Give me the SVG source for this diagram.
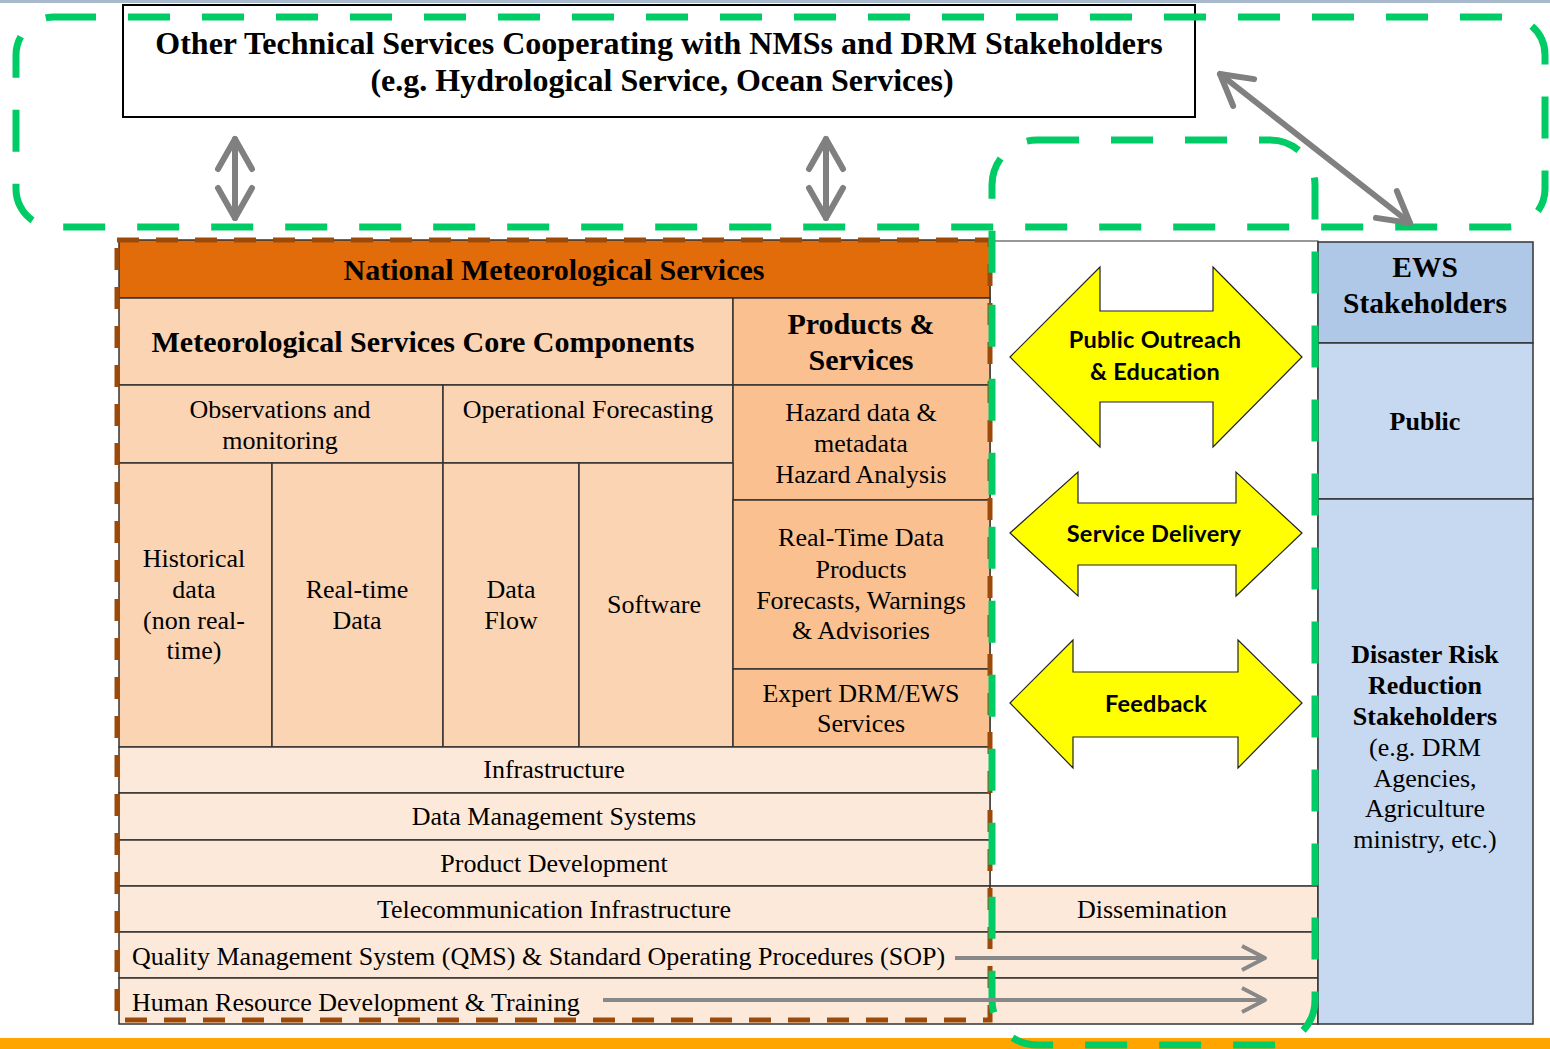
<svg xmlns="http://www.w3.org/2000/svg" width="1550" height="1049" viewBox="0 0 1550 1049">
<style>
.cell{stroke:#333;stroke-width:1.5}
.hdr{fill:#E36C0A}
.core{fill:#FBD4B4}
.prod{fill:#FAC090}
.lite{fill:#FDE9D9}
.ewsh{fill:#B0C8E8}
.ewsb{fill:#C6D9F1}
.tb{font-family:"Liberation Serif","Times New Roman",serif;font-weight:bold;fill:#000;text-anchor:middle}
.tr{font-family:"Liberation Serif","Times New Roman",serif;fill:#000;text-anchor:middle;font-size:26px}
.ts{text-anchor:start}
.ta{font-family:Lato,"Liberation Sans",sans-serif;font-weight:bold;fill:#000;text-anchor:middle;font-size:23.5px;letter-spacing:0.3px}
.yarrow{fill:#FFFF00;stroke:#222;stroke-width:1.2}
.green{fill:none;stroke:#00CC66;stroke-width:7;stroke-dasharray:42 32}
.brown{fill:none;stroke:#9C4A0A;stroke-width:5;stroke-dasharray:22 17}
.garrow{fill:none;stroke:#808080;stroke-width:6;stroke-linecap:round}
.garrow2{fill:none;stroke:#888;stroke-width:4}
</style>
<defs>
<marker id="chev" markerUnits="userSpaceOnUse" markerWidth="44" markerHeight="44" viewBox="0 0 44 44" refX="38" refY="22" orient="auto-start-reverse">
<path d="M8,5 L38,22 L8,39" fill="none" stroke="#808080" stroke-width="6" stroke-linecap="round" stroke-linejoin="round"/>
</marker>
<marker id="chev2" markerUnits="userSpaceOnUse" markerWidth="30" markerHeight="30" viewBox="0 0 30 30" refX="26" refY="15" orient="auto">
<path d="M3,3 L26,15 L3,27" fill="none" stroke="#888" stroke-width="4" stroke-linejoin="round"/>
</marker>
</defs>
<rect x="0" y="0" width="1550" height="1049" fill="#fff"/>
<rect x="0" y="0" width="1550" height="3" fill="#A9B9CC"/>
<rect x="0" y="1038" width="1550" height="11" fill="#FFA500"/>

<g id="other-technical-services">
<rect x="123" y="5" width="1072" height="112" fill="#fff" stroke="#000" stroke-width="2"/>
<text class="tb" x="659" y="54" font-size="32">Other Technical Services Cooperating with NMSs and DRM Stakeholders</text>
<text class="tb" x="662" y="91" font-size="32">(e.g. Hydrological Service, Ocean Services)</text>
</g>

<g id="white-area">
<rect x="990" y="241" width="328" height="645" fill="#fff" stroke="#555" stroke-width="1.2"/>
</g>

<g id="nms">
<rect class="cell hdr" x="119" y="240" width="871" height="58"/>
<text class="tb" x="554" y="280" font-size="30">National Meteorological Services</text>
</g>
<g id="core-components">
<rect class="cell core" x="119" y="298" width="614" height="87"/>
<text class="tb" x="423" y="352" font-size="30">Meteorological Services Core Components</text>
</g>
<g id="products-services">
<rect class="cell prod" x="733" y="298" width="257" height="87"/>
<text class="tb" x="861" y="334" font-size="30">Products &amp;</text>
<text class="tb" x="861" y="370" font-size="30">Services</text>
</g>
<g id="observations">
<rect class="cell core" x="119" y="385" width="324" height="78"/>
<text class="tr" x="280" y="418">Observations and</text>
<text class="tr" x="280" y="449">monitoring</text>
</g>
<g id="operational-forecasting">
<rect class="cell core" x="443" y="385" width="290" height="78"/>
<text class="tr" x="588" y="418">Operational Forecasting</text>
</g>
<g id="hazard">
<rect class="cell prod" x="733" y="385" width="257" height="115"/>
<text class="tr" x="861" y="421">Hazard data &amp;</text>
<text class="tr" x="861" y="452">metadata</text>
<text class="tr" x="861" y="483">Hazard Analysis</text>
</g>
<g id="historical">
<rect class="cell core" x="119" y="463" width="153" height="284"/>
<text class="tr" x="194" y="567">Historical</text>
<text class="tr" x="194" y="598">data</text>
<text class="tr" x="194" y="629">(non real-</text>
<text class="tr" x="194" y="659">time)</text>
</g>
<g id="real-time-data">
<rect class="cell core" x="272" y="463" width="171" height="284"/>
<text class="tr" x="357" y="598">Real-time</text>
<text class="tr" x="357" y="629">Data</text>
</g>
<g id="data-flow">
<rect class="cell core" x="443" y="463" width="136" height="284"/>
<text class="tr" x="511" y="598">Data</text>
<text class="tr" x="511" y="629">Flow</text>
</g>
<g id="software">
<rect class="cell core" x="579" y="463" width="154" height="284"/>
<text class="tr" x="654" y="613">Software</text>
</g>
<g id="real-time-products">
<rect class="cell prod" x="733" y="500" width="257" height="169"/>
<text class="tr" x="861" y="546">Real-Time Data</text>
<text class="tr" x="861" y="578">Products</text>
<text class="tr" x="861" y="609">Forecasts, Warnings</text>
<text class="tr" x="861" y="639">&amp; Advisories</text>
</g>
<g id="expert">
<rect class="cell prod" x="733" y="669" width="257" height="78"/>
<text class="tr" x="861" y="702">Expert DRM/EWS</text>
<text class="tr" x="861" y="732">Services</text>
</g>
<g id="infrastructure">
<rect class="cell lite" x="119" y="747" width="871" height="46"/>
<text class="tr" x="554" y="778">Infrastructure</text>
</g>
<g id="data-management">
<rect class="cell lite" x="119" y="793" width="871" height="47"/>
<text class="tr" x="554" y="825">Data Management Systems</text>
</g>
<g id="product-development">
<rect class="cell lite" x="119" y="840" width="871" height="46"/>
<text class="tr" x="554" y="872">Product Development</text>
</g>
<g id="telecom">
<rect class="cell lite" x="119" y="886" width="871" height="46"/>
<text class="tr" x="554" y="918">Telecommunication Infrastructure</text>
</g>
<g id="dissemination">
<rect class="cell lite" x="990" y="886" width="328" height="46"/>
<text class="tr" x="1152" y="918">Dissemination</text>
</g>
<g id="qms">
<rect class="cell lite" x="119" y="932" width="1199" height="46"/>
<text class="tr ts" x="132" y="965">Quality Management System (QMS) &amp; Standard Operating Procedures (SOP)</text>
</g>
<g id="hrd">
<rect class="cell lite" x="119" y="978" width="1199" height="46"/>
<text class="tr ts" x="132" y="1011">Human Resource Development &amp; Training</text>
</g>

<g id="ews-stakeholders">
<rect class="cell ewsh" x="1318" y="242" width="215" height="101"/>
<text class="tb" x="1425" y="277" font-size="29.5">EWS</text>
<text class="tb" x="1425" y="313" font-size="29.5">Stakeholders</text>
</g>
<g id="public">
<rect class="cell ewsb" x="1318" y="343" width="215" height="156"/>
<text class="tb" x="1425" y="430" font-size="26">Public</text>
</g>
<g id="drr-stakeholders">
<rect class="cell ewsb" x="1318" y="499" width="215" height="525"/>
<text class="tb" x="1425" y="663" font-size="26">Disaster Risk</text>
<text class="tb" x="1425" y="694" font-size="26">Reduction</text>
<text class="tb" x="1425" y="725" font-size="26">Stakeholders</text>
<text class="tr" x="1425" y="756">(e.g. DRM</text>
<text class="tr" x="1425" y="787">Agencies,</text>
<text class="tr" x="1425" y="817">Agriculture</text>
<text class="tr" x="1425" y="848">ministry, etc.)</text>
</g>

<g id="public-outreach">
<path class="yarrow" d="M1010,357 L1100,267 L1100,311 L1213,311 L1213,267 L1302,357 L1213,447 L1213,402 L1100,402 L1100,447 Z"/>
<text class="ta" x="1155" y="348">Public Outreach</text>
<text class="ta" x="1155" y="380">&amp; Education</text>
</g>
<g id="service-delivery">
<path class="yarrow" d="M1010,533 L1078,472 L1078,503 L1236,503 L1236,472 L1302,533 L1236,596 L1236,565 L1078,565 L1078,596 Z"/>
<text class="ta" x="1154" y="542">Service Delivery</text>
</g>
<g id="feedback">
<path class="yarrow" d="M1010,703 L1073,640 L1073,672 L1238,672 L1238,640 L1302,703 L1238,768 L1238,737 L1073,737 L1073,768 Z"/>
<text class="ta" x="1156" y="712">Feedback</text>
</g>

<g id="boundaries">
<rect class="brown" x="117" y="240" width="873" height="780"/>
<rect class="green" x="16" y="17" width="1529" height="210" rx="38"/>
<rect class="green" x="992" y="140" width="323" height="905" rx="45"/>
</g>

<g id="connectors">
<line class="garrow" x1="235" y1="139" x2="235" y2="218" marker-start="url(#chev)" marker-end="url(#chev)"/>
<line class="garrow" x1="826" y1="139" x2="826" y2="218" marker-start="url(#chev)" marker-end="url(#chev)"/>
<line class="garrow" x1="1220" y1="74" x2="1410" y2="223" marker-start="url(#chev)" marker-end="url(#chev)"/>
<line class="garrow2" x1="955" y1="958" x2="1265" y2="958" marker-end="url(#chev2)"/>
<line class="garrow2" x1="603" y1="1000" x2="1265" y2="1000" marker-end="url(#chev2)"/>
</g>
</svg>
